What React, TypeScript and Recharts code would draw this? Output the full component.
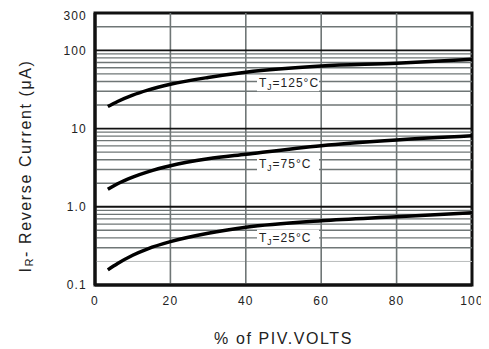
import React from "react";
import { LineChart, Line, XAxis, YAxis, ReferenceLine, ReferenceDot, ReferenceArea, Label } from "recharts";

const percentPIV = [3.4, 6, 10, 14, 20, 30, 40, 60, 80, 100];
const current25 = [0.156, 0.188, 0.24, 0.29, 0.358, 0.458, 0.547, 0.664, 0.747, 0.84];
const current75 = [1.67, 1.97, 2.4, 2.8, 3.35, 4.1, 4.69, 6.04, 7.15, 8.1];
const current125 = [19.1, 22.2, 26.8, 31, 36.8, 45, 52.5, 63, 68.4, 77];

const xTicks = [0, 20, 40, 60, 80, 100];
const yTicks = [0.1, 1, 10, 100, 300];
const yTickLabels: Record<number, string> = { 0.1: "0.1", 1: "1.0", 10: "10", 100: "100", 300: "300" };
const verticalGrid = [20, 40, 60, 80];
const decadeLines = [1, 10, 100];
const minorLines = [0.3, 0.4, 0.5, 0.6, 0.7, 0.8, 0.9, 2, 3, 4, 5, 6, 7, 8, 9, 20, 30, 40, 50, 60, 70, 80, 90, 200];
const faintLines = [0.2];

const curveLabels = [
  { x: 43.5, y: 38, temp: "125°C" },
  { x: 43.5, y: 3.5, temp: "75°C" },
  { x: 43.5, y: 0.403, temp: "25°C" },
];

const data = percentPIV.map((p, i) => ({
  x: p,
  t25: current25[i],
  t75: current75[i],
  t125: current125[i],
}));

const FONT = "'Liberation Sans', Arial, sans-serif";
const GRID = "#6f7676";

const LabelBox = (props: any) => {
  const { cx, cy, temp } = props;
  if (cx == null || cy == null) return null;
  return (
    <g>
      <rect x={cx - 2} y={cy - 8} width={62} height={16} fill="#ffffff" />
      <text x={cx} y={cy} dominantBaseline="central" fontFamily={FONT} fontSize={12} letterSpacing={1} fill="#222">
        T<tspan fontSize={8.5} dy={4}>J</tspan>
        <tspan dy={-4}>={temp}</tspan>
      </text>
    </g>
  );
};

export default function App() {
  return (
    <div style={{ marginLeft: -8, marginTop: -8, width: 489, height: 349, background: "#fff" }}>
      <div style={{ paddingLeft: 8, paddingTop: 8 }}>
        <LineChart
          width={481}
          height={341}
          data={data}
          margin={{ top: 5, right: 17, bottom: 0, left: 0 }}
        >
          <XAxis
            dataKey="x"
            type="number"
            domain={[0, 100]}
            ticks={xTicks}
            tickLine={false}
            tickSize={0}
            tickMargin={11}
            axisLine={{ stroke: "#111", strokeWidth: 3 }}
            tick={{ fontFamily: FONT, fontSize: 12, fill: "#222", letterSpacing: 1.2 }}
            height={64}
          >
            <Label
              content={(p: any) => {
                const vb = p.viewBox || {};
                const cx = vb.x + vb.width / 2;
                return (
                  <text x={cx} y={336} textAnchor="middle" fontFamily={FONT} fontSize={16} letterSpacing={1.6} fill="#222">
                    % of PIV.VOLTS
                  </text>
                );
              }}
            />
          </XAxis>
          <YAxis
            type="number"
            scale="log"
            domain={[0.1, 300]}
            ticks={yTicks}
            allowDataOverflow
            tickLine={false}
            tickSize={0}
            tickMargin={8}
            width={87}
            axisLine={{ stroke: "#111", strokeWidth: 3 }}
            tick={{ fontFamily: FONT, fontSize: 12, fill: "#222", letterSpacing: 1.2 }}
            tickFormatter={(v: number) => yTickLabels[v] ?? String(v)}
          >
            <Label
              content={() => (
                <text
                  x={17}
                  y={158}
                  transform="rotate(-90 17 158)"
                  textAnchor="middle"
                  dominantBaseline="central"
                  fontFamily={FONT}
                  fontSize={16}
                  letterSpacing={1.6}
                  fill="#222"
                >
                  I<tspan fontSize={11} dy={4}>R</tspan>
                  <tspan dy={-4}>- Reverse Current (μA)</tspan>
                </text>
              )}
            />
          </YAxis>
          {faintLines.map((v) => (
            <ReferenceLine key={"f" + v} y={v} stroke="#b8bcbc" strokeWidth={1} />
          ))}
          {minorLines.map((v) => (
            <ReferenceLine key={"m" + v} y={v} stroke={GRID} strokeWidth={1.4} />
          ))}
          {verticalGrid.map((v) => (
            <ReferenceLine key={"v" + v} x={v} stroke={GRID} strokeWidth={1.6} />
          ))}
          {decadeLines.map((v) => (
            <ReferenceLine key={"d" + v} y={v} stroke="#111" strokeWidth={1.8} />
          ))}
          <ReferenceArea
            x1={0}
            x2={100}
            y1={0.1}
            y2={300}
            fill="none"
            fillOpacity={0}
            stroke="#111"
            strokeWidth={3}
            strokeOpacity={1}
            ifOverflow="visible"
          />
          {curveLabels.map((l) => (
            <ReferenceDot
              key={l.temp}
              x={l.x}
              y={l.y}
              r={0}
              shape={(p: any) => <LabelBox {...p} temp={l.temp} />}
            />
          ))}
          <Line dataKey="t125" type="monotone" stroke="#000" strokeWidth={3.5} dot={false} isAnimationActive={false} />
          <Line dataKey="t75" type="monotone" stroke="#000" strokeWidth={3.5} dot={false} isAnimationActive={false} />
          <Line dataKey="t25" type="monotone" stroke="#000" strokeWidth={3.5} dot={false} isAnimationActive={false} />
        </LineChart>
      </div>
    </div>
  );
}
